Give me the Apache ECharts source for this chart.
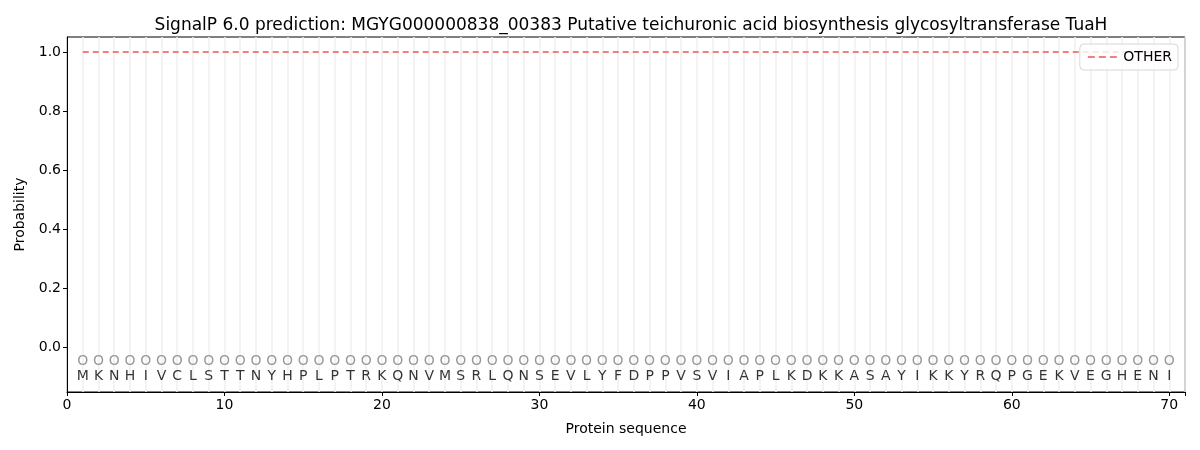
<!DOCTYPE html>
<html><head><meta charset="utf-8">
<script src="https://cdn.jsdelivr.net/npm/echarts@6/dist/echarts.min.js"></script>
<style>html,body{margin:0;padding:0;background:#fff}#c{width:1200px;height:450px}</style>
</head><body><div id="c"></div>
<script>
const sequence = "MKNHIVCLSTTNYHPLPTRKQNVMSRLQNSEVLYFDPPVSVIAPLKDKKASAYIKKYRQPGEKVEGHENI".split("");
const positions = sequence.map((_, i) => i + 1);
const otherProb = positions.map(() => 1.0);
const markerY = -0.05;
const letterY = -0.10;
const yTicks = [0.0, 0.2, 0.4, 0.6, 0.8, 1.0];
const xTicks = [0, 10, 20, 30, 40, 50, 60, 70];

const font = "DejaVu Sans";
const chart = echarts.init(document.getElementById('c'));
chart.setOption({
  animation: false,
  backgroundColor: '#fff',
  textStyle: {fontFamily: font},
  title: {
    text: 'SignalP 6.0 prediction: MGYG000000838_00383 Putative teichuronic acid biosynthesis glycosyltransferase TuaH',
    left: 626, top: 12, textAlign: 'center',
    textStyle: {fontFamily: font, fontSize: 17, fontWeight: 'normal', color: '#000'}
  },
  legend: {
    right: 22, top: 44,
    data: [{name: 'OTHER', icon: 'path://M0,0 L7,0 L7,2 L0,2 Z M11,0 L18,0 L18,2 L11,2 Z M22,0 L29,0 L29,2 L22,2 Z'}],
    itemWidth: 32, itemHeight: 2, itemGap: 8,
    backgroundColor: 'rgba(255,255,255,0.8)',
    borderColor: '#d6d6d6', borderWidth: 1, borderRadius: 4,
    padding: [6, 6, 6, 8],
    textStyle: {fontFamily: font, fontSize: 14, color: '#000'}
  },
  grid: {left: 67, right: 15, top: 37, bottom: 58, show: true, borderColor: '#000', borderWidth: 1, backgroundColor: 'transparent'},
  xAxis: {
    type: 'value', min: 0, max: 71, interval: 10,
    name: 'Protein sequence', nameLocation: 'middle', nameGap: 30,
    nameTextStyle: {fontFamily: font, fontSize: 14, color: '#000'},
    axisLine: {show: true, onZero: false, lineStyle: {color: '#000'}},
    axisTick: {show: true, length: 4, lineStyle: {color: '#000'}},
    axisLabel: {fontFamily: font, fontSize: 14, color: '#000', margin: 6,
      formatter: v => xTicks.includes(v) ? String(v) : ''},
    splitLine: {show: true, lineStyle: {color: '#f0f0f0', width: 1.5}},
    minorTick: {show: false, splitNumber: 10},
    minorSplitLine: {show: true, lineStyle: {color: '#f0f0f0', width: 1.5}}
  },
  yAxis: {
    type: 'value', min: -0.153, max: 1.051,
    name: 'Probability', nameLocation: 'middle', nameGap: 38,
    nameTextStyle: {fontFamily: font, fontSize: 14, color: '#000'},
    axisLine: {show: true, onZero: false, lineStyle: {color: '#000'}},
    axisTick: {show: true, length: 4, lineStyle: {color: '#000'},
      customValues: yTicks},
    axisLabel: {fontFamily: font, fontSize: 14, color: '#000', margin: 6,
      customValues: yTicks, formatter: v => v.toFixed(1)},
    splitLine: {show: false}
  },
  series: [
    {
      name: 'OTHER', type: 'line', data: positions.map((x, i) => [x, otherProb[i]]),
      symbol: 'none', lineStyle: {color: '#f08080', width: 2, type: [6, 4]},
      itemStyle: {color: '#f08080'}, z: 3
    },
    {
      name: 'markers', type: 'scatter', symbolSize: 0,
      data: positions.map(x => [x, markerY]),
      label: {show: true, position: 'inside', formatter: 'O', fontFamily: font, fontSize: 14, color: '#808080'},
      silent: true
    },
    {
      name: 'letters', type: 'scatter', symbolSize: 0,
      data: positions.map((x, i) => [x, letterY, sequence[i]]),
      label: {show: true, position: 'inside', formatter: p => p.data[2], fontFamily: font, fontSize: 14, color: '#000'},
      silent: true
    }
  ]
});
</script></body></html>
